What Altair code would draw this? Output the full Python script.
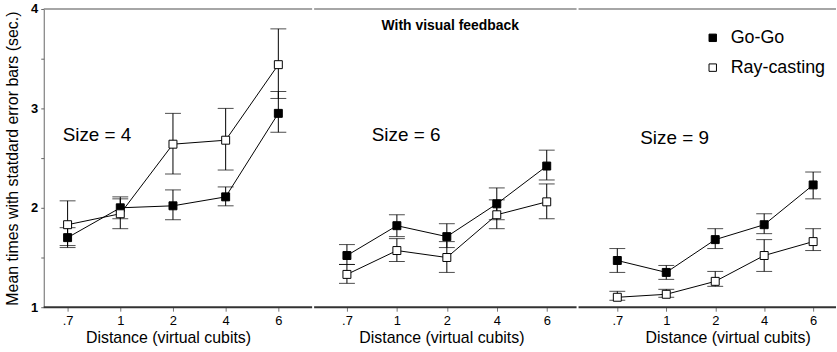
import altair as alt
import pandas as pd

distances = [".7", "1", "2", "4", "6"]
methods = ["Go-Go", "Ray-casting"]
sizes = ["4", "6", "9"]

# Size = 4
gogo_mean_s4 = [1.70, 2.00, 2.02, 2.11, 2.95]
gogo_lo_s4 = [1.62, 1.89, 1.88, 2.02, 2.76]
gogo_hi_s4 = [1.80, 2.11, 2.18, 2.21, 3.17]
ray_mean_s4 = [1.83, 1.94, 2.64, 2.68, 3.44]
ray_lo_s4 = [1.60, 1.79, 2.34, 2.38, 3.10]
ray_hi_s4 = [2.07, 2.09, 2.95, 3.00, 3.80]

# Size = 6
gogo_mean_s6 = [1.52, 1.82, 1.71, 2.04, 2.42]
gogo_lo_s6 = [1.43, 1.71, 1.60, 1.88, 2.28]
gogo_hi_s6 = [1.63, 1.93, 1.84, 2.20, 2.58]
ray_mean_s6 = [1.33, 1.57, 1.50, 1.93, 2.06]
ray_lo_s6 = [1.24, 1.46, 1.35, 1.79, 1.89]
ray_hi_s6 = [1.43, 1.69, 1.66, 2.08, 2.24]

# Size = 9
gogo_mean_s9 = [1.47, 1.35, 1.68, 1.83, 2.23]
gogo_lo_s9 = [1.35, 1.28, 1.59, 1.74, 2.09]
gogo_hi_s9 = [1.59, 1.42, 1.79, 1.94, 2.36]
ray_mean_s9 = [1.10, 1.13, 1.26, 1.52, 1.66]
ray_lo_s9 = [1.07, 1.10, 1.21, 1.36, 1.57]
ray_hi_s9 = [1.16, 1.18, 1.36, 1.68, 1.79]

FONT = "Liberation Sans"

LEGEND = alt.Legend(
    title=None, orient="none", legendX=664, legendY=20, symbolType="square",
    symbolSize=56, symbolStrokeColor="black", symbolStrokeWidth=1, labelFont=FONT,
    labelFontSize=18, labelColor="black", labelOffset=9, rowPadding=12,
)


def make_df(gm, gl, gh, rm, rl, rh):
    rows = []
    for i, d in enumerate(distances):
        rows.append({"distance": d, "method": methods[0], "mean": gm[i], "lo": gl[i], "hi": gh[i]})
        rows.append({"distance": d, "method": methods[1], "mean": rm[i], "lo": rl[i], "hi": rh[i]})
    return pd.DataFrame(rows)


def panel(size, df, width, rng, title_x, label_x, label_y, show_y, show_title):
    xaxis = alt.Axis(
        title="Distance (virtual cubits)", labelAngle=0, labelFont=FONT, labelFontSize=13,
        labelColor="black", titleFont=FONT, titleFontSize=16, titleFontWeight="normal",
        titleColor="black", titlePadding=3, titleX=title_x, titleAlign="center",
        domain=False, tickColor="#777", tickSize=4, labelPadding=3,
    )
    x = alt.X("distance:O", sort=distances,
              scale=alt.Scale(type="point", range=rng, padding=0), axis=xaxis)
    if show_y:
        yaxis = alt.Axis(
            title="Mean times with statdard error bars (sec.)", values=[1, 1.5, 2, 2.5, 3, 3.5, 4],
            labelExpr="datum.value % 1 == 0 ? format(datum.value, 'd') : ''", labelFont=FONT,
            labelFontSize=13, labelFontWeight="bold", labelColor="black", titleFont=FONT,
            titleFontSize=16, titleFontWeight="normal", titleColor="black", titlePadding=10,
            domainColor="#666", tickColor="#666", tickSize=3, labelPadding=3, grid=False,
        )
    else:
        yaxis = None
    yscale = alt.Scale(domain=[1, 4], nice=False, zero=False)
    base = alt.Chart(df).encode(x=x)
    rule = base.mark_rule(color="black", strokeWidth=1).encode(
        y=alt.Y("lo:Q", scale=yscale, axis=yaxis), y2="hi:Q")
    tlo = base.mark_tick(color="black", size=16, thickness=1, orient="horizontal").encode(
        y=alt.Y("lo:Q", scale=yscale, axis=yaxis))
    thi = base.mark_tick(color="black", size=16, thickness=1, orient="horizontal").encode(
        y=alt.Y("hi:Q", scale=yscale, axis=yaxis))
    line = base.mark_line(color="black", strokeWidth=1).encode(
        y=alt.Y("mean:Q", scale=yscale, axis=yaxis), detail="method:N")
    pts = base.mark_point(shape="square", size=64, stroke="black", strokeWidth=1,
                          filled=True, opacity=1).encode(
        y=alt.Y("mean:Q", scale=yscale, axis=yaxis),
        fill=alt.Fill("method:N", scale=alt.Scale(domain=methods, range=["black", "white"]),
                      legend=LEGEND),
    )
    lab = alt.Chart(pd.DataFrame({"t": ["Size = " + size]})).mark_text(
        align="left", baseline="middle", font=FONT, fontSize=19, color="black"
    ).encode(text="t:N", x=alt.value(label_x), y=alt.datum(label_y, scale=yscale))
    top = alt.Chart(pd.DataFrame({"t": [0]})).mark_rule(color="#888", strokeWidth=1.5).encode(
        x=alt.value(0), x2=alt.value(width), y=alt.value(0))
    bottom = alt.Chart(pd.DataFrame({"t": [0]})).mark_rule(color="#333", strokeWidth=2).encode(
        x=alt.value(0), x2=alt.value(width), y=alt.value(300))
    layers = [top, bottom, rule, tlo, thi, line, pts, lab]
    if show_title:
        ttl = alt.Chart(pd.DataFrame({"t": ["With visual feedback"]})).mark_text(
            align="center", baseline="middle", font=FONT, fontSize=14, fontWeight="bold",
            color="black").encode(text="t:N", x=alt.value(137), y=alt.value(17))
        layers.append(ttl)
    return alt.layer(*layers).properties(width=width, height=300)


p1 = panel(sizes[0], make_df(gogo_mean_s4, gogo_lo_s4, gogo_hi_s4, ray_mean_s4, ray_lo_s4, ray_hi_s4),
           270, [24, 236], 125, 19, 2.73, True, False)
p2 = panel(sizes[1], make_df(gogo_mean_s6, gogo_lo_s6, gogo_hi_s6, ray_mean_s6, ray_lo_s6, ray_hi_s6),
           264, [33, 234], 128, 58, 2.73, False, True)
p3 = panel(sizes[2], make_df(gogo_mean_s9, gogo_lo_s9, gogo_hi_s9, ray_mean_s9, ray_lo_s9, ray_hi_s9),
           259, [39, 236], 150, 62, 2.70, False, False)

chart = alt.hconcat(p1, p2, p3, spacing=0).properties(
    padding={"left": 4, "top": 2, "right": 0, "bottom": 2}, background="white"
).configure_view(stroke=None)

chart.save("out.html", embed_options={"renderer": "svg", "actions": False})
